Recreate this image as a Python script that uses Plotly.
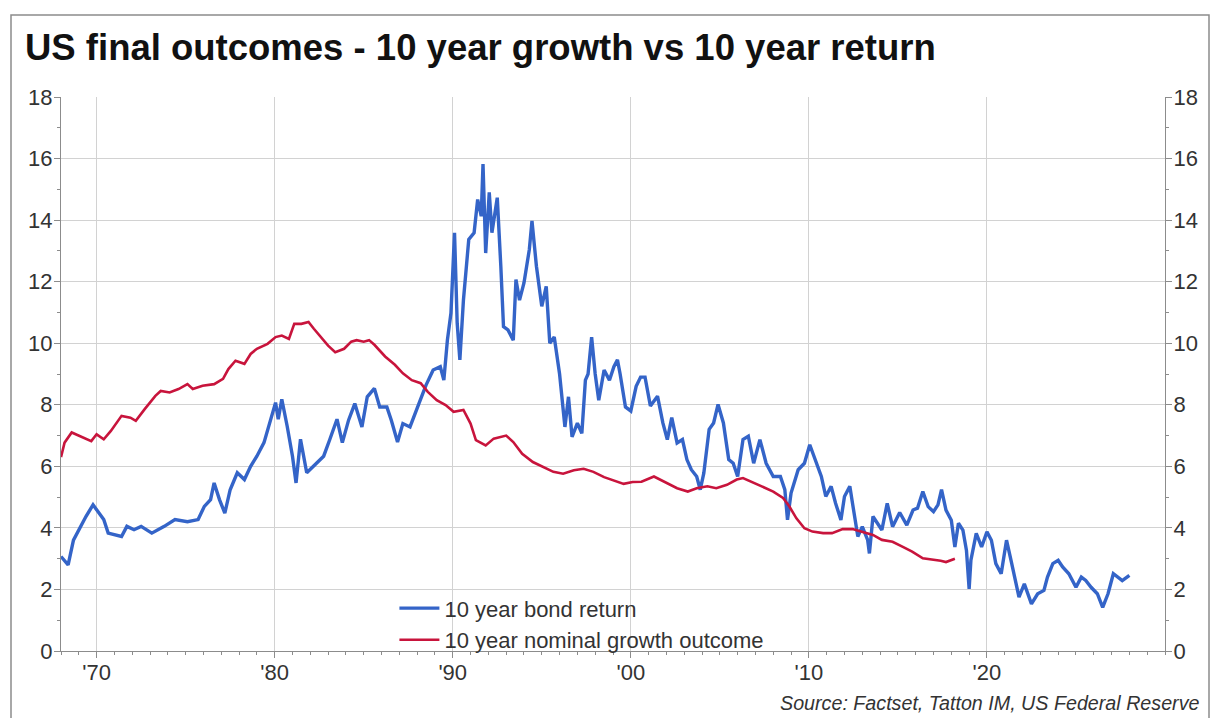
import plotly.graph_objects as go

# ---- data ----
bond_years = [1968.0, 1968.4, 1968.7, 1969.0, 1969.4, 1969.8, 1970.0, 1970.4, 1970.65, 1971.4, 1971.7, 1972.1,
              1972.5, 1973.1, 1973.8, 1974.4, 1975.1, 1975.7, 1976.05, 1976.4, 1976.6, 1976.9, 1977.2, 1977.5,
              1977.9, 1978.3, 1978.65, 1979.0, 1979.4, 1979.8, 1980.05, 1980.2, 1980.4, 1980.7, 1981.0, 1981.2,
              1981.45, 1981.8, 1982.4, 1982.75, 1983.1, 1983.5, 1983.8, 1984.15, 1984.5, 1984.9, 1985.2, 1985.6,
              1985.9, 1986.3, 1986.55, 1986.9, 1987.2, 1987.6, 1988.1, 1988.5, 1988.9, 1989.3, 1989.5, 1989.7,
              1989.9, 1990.1, 1990.25, 1990.4, 1990.6, 1990.9, 1991.2, 1991.4, 1991.6, 1991.7, 1991.85, 1992.05,
              1992.2, 1992.5, 1992.7, 1992.85, 1993.1, 1993.4, 1993.55, 1993.75, 1994.0, 1994.3, 1994.45, 1994.7,
              1995.0, 1995.25, 1995.45, 1995.7, 1996.0, 1996.3, 1996.5, 1996.7, 1997.0, 1997.25, 1997.45, 1997.6,
              1997.8, 1998.0, 1998.2, 1998.5, 1998.8, 1999.05, 1999.25, 1999.4, 1999.7, 2000.0, 2000.3, 2000.55,
              2000.8, 2001.1, 2001.5, 2001.8, 2002.05, 2002.3, 2002.6, 2002.9, 2003.15, 2003.4, 2003.7, 2003.9,
              2004.1, 2004.4, 2004.65, 2004.9, 2005.2, 2005.5, 2005.75, 2006.0, 2006.3, 2006.6, 2006.9, 2007.25,
              2007.6, 2008.0, 2008.4, 2008.65, 2008.8, 2009.0, 2009.4, 2009.75, 2010.05, 2010.3, 2010.7, 2010.95,
              2011.25, 2011.5, 2011.8, 2012.0, 2012.3, 2012.45, 2012.75, 2013.0, 2013.3, 2013.4, 2013.6, 2013.85,
              2014.1, 2014.4, 2014.7, 2015.1, 2015.5, 2015.85, 2016.1, 2016.4, 2016.7, 2017.0, 2017.25, 2017.45,
              2017.7, 2018.0, 2018.2, 2018.4, 2018.65, 2018.85, 2019.0, 2019.1, 2019.4, 2019.7, 2020.0, 2020.25,
              2020.5, 2020.8, 2021.1, 2021.35, 2021.65, 2021.8, 2022.1, 2022.5, 2022.85, 2023.2, 2023.4, 2023.7,
              2024.0, 2024.25, 2024.6, 2025.0, 2025.3, 2025.55, 2025.85, 2026.2, 2026.5, 2026.8, 2027.1, 2027.35,
              2027.6, 2028.0]
bond_return = [3.07, 2.8, 3.6, 3.94, 4.37, 4.75, 4.6, 4.27, 3.83, 3.72, 4.05, 3.94,
               4.05, 3.83, 4.05, 4.27, 4.2, 4.27, 4.7, 4.92, 5.46, 4.92, 4.48, 5.24,
               5.79, 5.57, 6.0, 6.33, 6.77, 7.53, 8.07, 7.53, 8.18, 7.31, 6.33, 5.46,
               6.88, 5.79, 6.12, 6.33, 6.88, 7.53, 6.77, 7.5, 8.04, 7.28, 8.26, 8.53,
               7.93, 7.93, 7.5, 6.79, 7.39, 7.28, 8.04, 8.64, 9.13, 9.24, 8.8, 10.1,
               10.98, 13.59, 10.65, 9.46, 11.4, 13.37, 13.59, 14.67, 14.13, 15.82, 12.93, 14.9,
               13.59, 14.73, 12.5, 10.54, 10.43, 10.1, 12.07, 11.4, 11.96, 13.04, 13.97, 12.5,
               11.2, 11.85, 10.0, 10.2, 9.0, 7.28, 8.26, 6.96, 7.4, 7.07, 8.8, 9.0,
               10.2, 9.0, 8.15, 9.13, 8.8, 9.24, 9.46, 9.0, 7.93, 7.8, 8.6, 8.9,
               8.9, 7.96, 8.28, 7.41, 6.87, 7.58, 6.76, 6.87, 6.22, 5.89, 5.67, 5.24,
               5.78, 7.2, 7.41, 8.01, 7.41, 6.22, 6.1, 5.67, 6.87, 6.98, 6.1, 6.87,
               6.1, 5.67, 5.67, 5.24, 4.26, 5.13, 5.89, 6.1, 6.7, 6.33, 5.67, 5.02,
               5.35, 4.8, 4.26, 5.02, 5.35, 4.8, 3.72, 4.04, 3.61, 3.17, 4.37, 4.15,
               3.93, 4.8, 4.04, 4.5, 4.09, 4.58, 4.64, 5.18, 4.69, 4.53, 4.75, 5.24,
               4.58, 4.25, 3.38, 4.15, 3.93, 3.27, 2.02, 2.95, 3.82, 3.38, 3.87, 3.6,
               2.84, 2.51, 3.6, 2.95, 2.18, 1.75, 2.18, 1.53, 1.86, 1.97, 2.4, 2.84,
               2.95, 2.73, 2.51, 2.07, 2.4, 2.29, 2.07, 1.86, 1.42, 1.86, 2.51, 2.4,
               2.29, 2.46]

growth_years = [1968.0, 1968.2, 1968.6, 1969.0, 1969.45, 1969.7, 1970.0, 1970.4, 1970.8, 1971.4, 1971.9, 1972.2,
                1972.7, 1973.3, 1973.6, 1974.1, 1974.6, 1975.1, 1975.4, 1975.95, 1976.6, 1977.1, 1977.4, 1977.8,
                1978.3, 1978.65, 1979.0, 1979.6, 1980.05, 1980.4, 1980.8, 1981.1, 1981.5, 1981.9, 1982.2, 1982.6,
                1983.0, 1983.4, 1983.9, 1984.3, 1984.6, 1985.0, 1985.3, 1985.6, 1986.2, 1986.75, 1987.2, 1987.7,
                1988.2, 1988.6, 1989.1, 1989.6, 1990.05, 1990.6, 1991.0, 1991.3, 1991.85, 1992.3, 1993.0, 1993.4,
                1993.9, 1994.5, 1995.1, 1995.65, 1996.2, 1996.8, 1997.35, 1997.9, 1998.5, 1999.05, 1999.6, 2000.1,
                2000.6, 2001.3, 2002.05, 2002.6, 2003.2, 2003.7, 2004.3, 2004.8, 2005.4, 2005.95, 2006.3, 2006.9,
                2007.4, 2008.0, 2008.55, 2008.9, 2009.3, 2009.75, 2010.2, 2010.8, 2011.3, 2011.9, 2012.45, 2013.0,
                2013.6, 2014.1, 2014.7, 2015.25, 2015.8, 2016.4, 2016.9, 2017.4, 2017.7, 2018.2]
growth_outcome = [6.3, 6.77, 7.1, 6.99, 6.88, 6.82, 7.04, 6.88, 7.15, 7.64, 7.58, 7.48,
                  7.86, 8.29, 8.45, 8.4, 8.51, 8.67, 8.51, 8.62, 8.67, 8.84, 9.16, 9.43,
                  9.33, 9.65, 9.82, 9.98, 10.2, 10.25, 10.14, 10.63, 10.63, 10.69, 10.47, 10.2,
                  9.92, 9.71, 9.82, 10.05, 10.1, 10.05, 10.1, 9.95, 9.57, 9.3, 9.02, 8.8,
                  8.7, 8.42, 8.15, 7.99, 7.77, 7.83, 7.39, 6.85, 6.68, 6.9, 7.0, 6.79,
                  6.41, 6.14, 5.98, 5.82, 5.76, 5.87, 5.92, 5.82, 5.65, 5.54, 5.43, 5.49,
                  5.5, 5.67, 5.46, 5.29, 5.18, 5.29, 5.35, 5.29, 5.4, 5.57, 5.62, 5.46,
                  5.35, 5.18, 4.97, 4.7, 4.31, 3.99, 3.88, 3.83, 3.83, 3.96, 3.96, 3.88,
                  3.77, 3.61, 3.55, 3.39, 3.23, 3.01, 2.98, 2.93, 2.89, 3.0]

x_tick_vals = [1970, 1980, 1990, 2000, 2010, 2020]
x_tick_text = ["'70", "'80", "'90", "'00", "'10", "'20"]
y_tick_vals = [0, 2, 4, 6, 8, 10, 12, 14, 16, 18]

series_names = ["10 year bond return", "10 year nominal growth outcome"]
title_text = "US final outcomes - 10 year growth vs 10 year return"
source_text = "Source: Factset, Tatton IM, US Federal Reserve"

BLUE = "#3464C8"
RED = "#C8143C"
FONT = "Liberation Sans, Arial, sans-serif"
TXT = "#333333"
AXIS = "#8C8C8C"
GRID = "#D2D2D2"

fig = go.Figure()
fig.add_trace(go.Scatter(x=bond_years, y=bond_return, mode="lines", name=series_names[0],
                         line=dict(color=BLUE, width=3.4), yaxis="y"))
fig.add_trace(go.Scatter(x=growth_years, y=growth_outcome, mode="lines", name=series_names[1],
                         line=dict(color=RED, width=2.6), yaxis="y2"))

yaxis_common = dict(range=[0, 18], tickvals=y_tick_vals, ticks="outside", ticklen=6, tickwidth=1,
                    tickcolor=AXIS, showline=True, linecolor=AXIS, linewidth=1, ticklabelstandoff=-3,
                    tickfont=dict(family=FONT, size=22, color=TXT), zeroline=False,
                    minor=dict(dtick=1, ticks="outside", ticklen=3, tickcolor=AXIS, showgrid=False))

fig.update_layout(
    width=1212, height=718,
    margin=dict(l=61, r=47, t=97, b=67),
    paper_bgcolor="white", plot_bgcolor="white",
    title=dict(text="<b>" + title_text + "</b>", x=25 / 1212, xanchor="left", y=1 - 47 / 718, yanchor="middle",
               font=dict(family=FONT, size=36.5, color="#111111")),
    xaxis=dict(range=[1968, 2030], tickvals=x_tick_vals, ticktext=x_tick_text, ticks="outside", ticklen=6,
               tickcolor=AXIS, showline=True, linecolor=AXIS, linewidth=1, showgrid=True, gridcolor=GRID,
               gridwidth=1, zeroline=False, tickfont=dict(family=FONT, size=22, color=TXT),
               ticklabelstandoff=-4,
               minor=dict(dtick=1, tick0=1970, ticks="outside", ticklen=3, tickcolor=AXIS, showgrid=False)),
    yaxis=dict(showgrid=True, gridcolor=GRID, gridwidth=1, side="left", **yaxis_common),
    yaxis2=dict(overlaying="y", side="right", anchor="x", showgrid=False, matches="y", **yaxis_common),
    showlegend=True,
    legend=dict(x=0.302, y=0.115, xanchor="left", yanchor="top", bgcolor="rgba(0,0,0,0)",
                font=dict(family=FONT, size=22, color=TXT), tracegroupgap=0, itemwidth=40),
    annotations=[dict(text="<i>" + source_text + "</i>", xref="paper", yref="paper",
                      x=(1201 - 61) / 1104, y=(651 - 703) / 554, xanchor="right", yanchor="middle",
                      showarrow=False, font=dict(family=FONT, size=19.7, color=TXT))],
    shapes=[dict(type="rect", xref="paper", yref="paper",
                 x0=(11 - 61) / 1104, x1=(1209 - 61) / 1104, y0=(651 - 740) / 554, y1=(651 - 15) / 554,
                 line=dict(color="#8C8C8C", width=1.5), fillcolor="rgba(0,0,0,0)", layer="below")],
)

fig.write_html("out.html", config={"displayModeBar": False},
               post_script="document.body.style.margin='0';document.body.style.overflow='hidden';")
